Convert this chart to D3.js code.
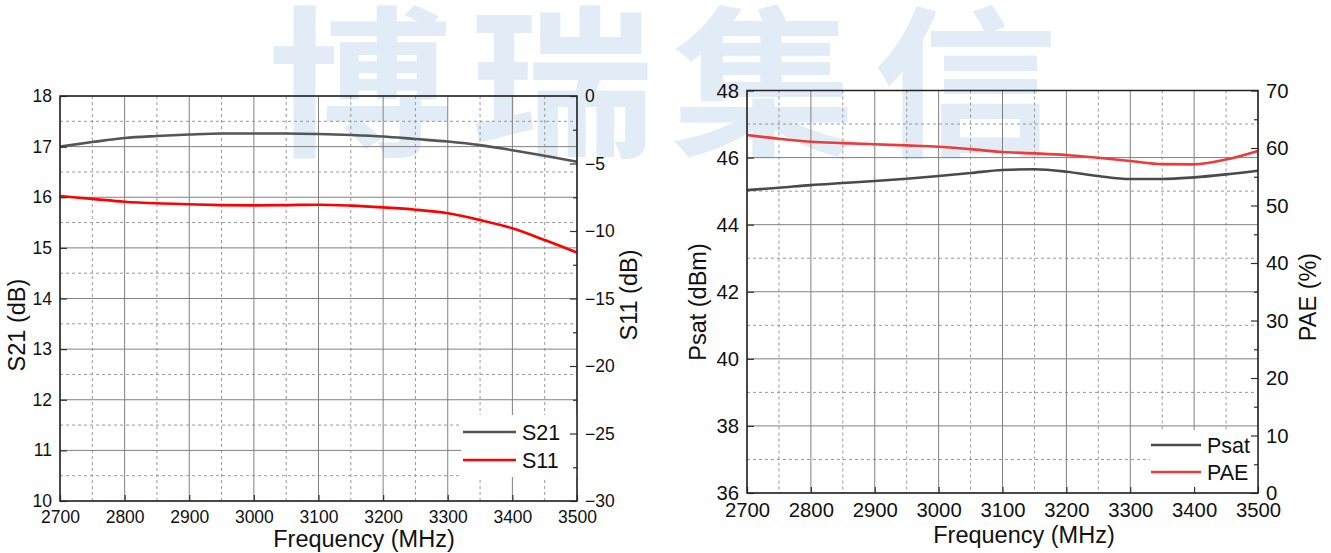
<!DOCTYPE html>
<html>
<head>
<meta charset="utf-8">
<title>S21 S11 Psat PAE</title>
<script src="https://cdn.jsdelivr.net/npm/d3@7"></script>
<style>
  body { margin: 0; background: #fff; }
  svg text { font-family: "Liberation Sans", Arial, sans-serif; fill: #111; }
  .watermark text { font-family: "Noto Sans CJK SC", sans-serif; font-weight: 700; fill: #e1ecf6; }
  .grid-major line { stroke: #808080; stroke-width: 1; }
  .grid-minor line { stroke: #999; stroke-width: 1; stroke-dasharray: 3,3; }
  .axis line { stroke: #333; stroke-width: 1.2; }
  .axis path { display: none; }
  .frame { fill: none; stroke: #222; stroke-width: 1.5; }
  .curve { fill: none; stroke-width: 2.6; }
  .title { font-size: 23.5px; }
  .legend text { font-size: 21.5px; }
</style>
</head>
<body>
<svg width="1331" height="553"></svg>
<script>

var freq = [2700, 2750, 2800, 2850, 2900, 2950, 3000, 3050, 3100, 3150, 3200, 3250, 3300, 3350, 3400, 3450, 3500];
var s21  = [17.00, 17.09, 17.17, 17.21, 17.24, 17.26, 17.26, 17.26, 17.25, 17.23, 17.20, 17.15, 17.10, 17.03, 16.93, 16.82, 16.70];
var s11  = [-7.41, -7.62, -7.83, -7.95, -8.02, -8.08, -8.10, -8.08, -8.05, -8.12, -8.25, -8.42, -8.69, -9.19, -9.80, -10.67, -11.60];
var psat = [45.03, 45.10, 45.18, 45.24, 45.30, 45.37, 45.45, 45.54, 45.63, 45.65, 45.58, 45.45, 45.36, 45.36, 45.41, 45.50, 45.61];
var pae  = [62.26, 61.60, 61.10, 60.85, 60.64, 60.45, 60.23, 59.80, 59.30, 59.07, 58.78, 58.30, 57.74, 57.20, 57.16, 58.00, 59.50];

var freqTicks = [2700, 2800, 2900, 3000, 3100, 3200, 3300, 3400, 3500];
var s21Ticks  = [10, 11, 12, 13, 14, 15, 16, 17, 18];
var s11Ticks  = [-30, -25, -20, -15, -10, -5, 0];
var psatTicks = [36, 38, 40, 42, 44, 46, 48];
var paeTicks  = [0, 10, 20, 30, 40, 50, 60, 70];

var svg = d3.select("svg");

// faint company watermark behind the plots
svg.append("g").attr("class", "watermark")
  .attr("transform", "translate(268,144) scale(1.14,1)")
  .append("text")
    .attr("x", 0)
    .attr("y", 0)
    .attr("font-size", 162)
    .attr("letter-spacing", 15)
    .text("博瑞集信");

function mids(ticks) {
  return d3.pairs(ticks).map(function(p) { return (p[0] + p[1]) / 2; });
}

function panel(p) {
  var x = d3.scaleLinear().domain([2700, 3500]).range([p.left, p.right]),
      yL = d3.scaleLinear().domain(d3.extent(p.leftTicks)).range([p.bottom, p.top]),
      yR = d3.scaleLinear().domain(d3.extent(p.rightTicks)).range([p.bottom, p.top]);

  var g = svg.append("g");
  var w = p.right - p.left, h = p.bottom - p.top;

  // grid
  g.append("g").attr("class", "grid-minor")
    .selectAll("line").data(mids(freqTicks)).enter().append("line")
      .attr("x1", x).attr("x2", x).attr("y1", p.top).attr("y2", p.bottom);
  g.append("g").attr("class", "grid-minor")
    .selectAll("line").data(mids(p.leftTicks)).enter().append("line")
      .attr("y1", yL).attr("y2", yL).attr("x1", p.left).attr("x2", p.right);
  g.append("g").attr("class", "grid-major")
    .selectAll("line").data(freqTicks).enter().append("line")
      .attr("x1", x).attr("x2", x).attr("y1", p.top).attr("y2", p.bottom);
  g.append("g").attr("class", "grid-major")
    .selectAll("line").data(p.leftTicks).enter().append("line")
      .attr("y1", yL).attr("y2", yL).attr("x1", p.left).attr("x2", p.right);

  // curves
  var lineL = d3.line().curve(d3.curveMonotoneX)
      .x(function(d, i) { return x(freq[i]); })
      .y(function(d) { return yL(d); });
  var lineR = d3.line().curve(d3.curveMonotoneX)
      .x(function(d, i) { return x(freq[i]); })
      .y(function(d) { return yR(d); });

  g.append("path").attr("class", "curve").attr("stroke", p.colors[0]).attr("d", lineL(p.leftData));
  g.append("path").attr("class", "curve").attr("stroke", p.colors[1]).attr("d", lineR(p.rightData));

  // legend box hides grid behind it
  var lg = g.append("g").attr("class", "legend");
  lg.append("rect")
    .attr("x", p.legend.x).attr("y", p.legend.y)
    .attr("width", p.right - p.legend.x).attr("height", p.legend.h)
    .attr("fill", "#fff");
  p.names.forEach(function(name, i) {
    var ly = p.legend.rows[i];
    lg.append("line")
      .attr("x1", p.legend.lx0).attr("x2", p.legend.lx1)
      .attr("y1", ly).attr("y2", ly)
      .attr("stroke", p.colors[i]).attr("stroke-width", 2.6);
    lg.append("text")
      .attr("x", p.legend.lx1 + 6).attr("y", ly).attr("dy", "0.36em")
      .text(name);
  });

  // axes, ticks pointing inward
  function style(sel) {
    sel.selectAll("text").style("font-size", p.tickFont + "px");
  }
  g.append("g").attr("class", "axis").attr("transform", "translate(" + p.left + ",0)")
    .call(d3.axisLeft(yL).tickValues(p.leftTicks).tickSize(-7).tickPadding(8)).call(style);
  g.append("g").attr("class", "axis").attr("transform", "translate(" + p.right + ",0)")
    .call(d3.axisRight(yR).tickValues(p.rightTicks).tickSize(-7).tickPadding(8)).call(style);
  g.append("g").attr("class", "axis").attr("transform", "translate(" + p.right + ",0)")
    .call(d3.axisRight(yR).tickValues(mids(p.rightTicks)).tickSize(-4).tickFormat(""));
  g.append("g").attr("class", "axis").attr("transform", "translate(0," + p.bottom + ")")
    .call(d3.axisBottom(x).tickValues(freqTicks).tickSize(-6).tickPadding(10).tickFormat(d3.format("d"))).call(style);

  g.append("rect").attr("class", "frame")
    .attr("x", p.left).attr("y", p.top).attr("width", w).attr("height", h);

  // titles
  g.append("text").attr("class", "title")
    .attr("x", p.xTitle[0]).attr("y", p.xTitle[1])
    .attr("text-anchor", "middle").text("Frequency (MHz)");
  g.append("text").attr("class", "title")
    .attr("transform", "translate(" + p.lTitle[0] + "," + p.lTitle[1] + ") rotate(-90)")
    .attr("text-anchor", "middle").attr("dy", "0.36em").text(p.titles[0]);
  g.append("text").attr("class", "title")
    .attr("transform", "translate(" + p.rTitle[0] + "," + p.rTitle[1] + ") rotate(-90)")
    .attr("text-anchor", "middle").attr("dy", "0.36em").text(p.titles[1]);
}

panel({
  left: 60, right: 577, top: 96, bottom: 501,
  leftTicks: s21Ticks, rightTicks: s11Ticks,
  leftData: s21, rightData: s11,
  names: ["S21", "S11"], colors: ["#555555", "#ff0000"],
  titles: ["S21 (dB)", "S11 (dB)"],
  tickFont: 17.5,
  xTitle: [364, 547], lTitle: [17, 325], rTitle: [629, 295],
  legend: { x: 461, y: 415, h: 62, lx0: 463, lx1: 516, rows: [432, 460] }
});

panel({
  left: 747, right: 1258, top: 90.5, bottom: 493,
  leftTicks: psatTicks, rightTicks: paeTicks,
  leftData: psat, rightData: pae,
  names: ["Psat", "PAE"], colors: ["#4a4a4a", "#ee3a3a"],
  titles: ["Psat (dBm)", "PAE (%)"],
  tickFont: 20.3,
  xTitle: [1024, 543], lTitle: [698, 302], rTitle: [1308, 297],
  legend: { x: 1150, y: 430, h: 62, lx0: 1151, lx1: 1201, rows: [445, 472] }
});

</script>
</body>
</html>
